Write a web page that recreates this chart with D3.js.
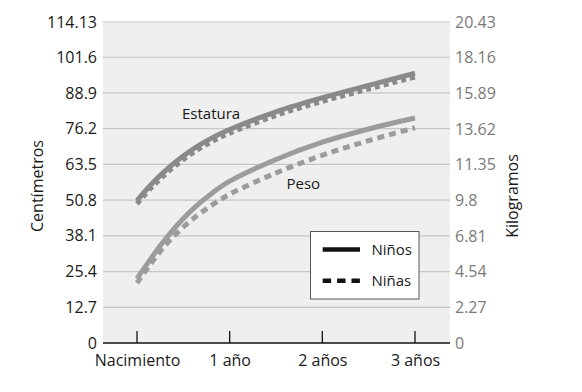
<!DOCTYPE html>
<html>
<head>
<meta charset="utf-8">
<script src="https://cdn.jsdelivr.net/npm/d3@7"></script>
<style>
  html, body { margin: 0; padding: 0; background: #fff; }
  svg { display: block; font-family: "Open Sans", "Noto Sans", sans-serif; }
</style>
</head>
<body>
<svg id="chart" width="582" height="392"></svg>
<script>
// ---- data ----
const xCategories = ["Nacimiento", "1 año", "2 años", "3 años"];
const xCategoryAges = [0, 1, 2, 3];

const leftTickValues = [0, 12.7, 25.4, 38.1, 50.8, 63.5, 76.2, 88.9, 101.6, 114.13];
const leftTickLabels = ["0", "12.7", "25.4", "38.1", "50.8", "63.5", "76.2", "88.9", "101.6", "114.13"];
const rightTickValues = [0, 2.27, 4.54, 6.81, 9.08, 11.35, 13.62, 15.89, 18.16, 20.43];
const rightTickLabels = ["0", "2.27", "4.54", "6.81", "9.8", "11.35", "13.62", "15.89", "18.16", "20.43"];

// ages in years
const ages = [0, 0.14, 0.28, 0.46, 0.65, 0.82, 1, 1.5, 2, 2.5, 3];
// Estatura (cm)
const estaturaNinos = [50.6, 55.9, 60.5, 65.5, 69.9, 73.1, 75.9, 82.2, 87.2, 91.6, 95.9];
const estaturaNinas = [49.5, 54.7, 59.2, 64.2, 68.6, 71.8, 74.6, 80.9, 85.9, 90.3, 94.6];
// Peso (kg)
const pesoNinos = [4.1, 5.29, 6.41, 7.67, 8.77, 9.58, 10.3, 11.68, 12.78, 13.62, 14.32];
const pesoNinas = [3.82, 4.98, 6.04, 7.16, 8.11, 8.82, 9.47, 10.82, 11.95, 12.88, 13.7];

const seriesLabels = ["Niños", "Niñas"];
const curveLabels = ["Estatura", "Peso"];

// ---- layout ----
const svg = d3.select("#chart");
const plot = { left: 103, right: 450, top: 22, bottom: 343 };

const x = d3.scaleLinear().domain([0, 3]).range([137, 415]);
const yL = d3.scaleLinear().domain([0, 114.13]).range([plot.bottom, plot.top]);
const yR = d3.scaleLinear().domain([0, 20.43]).range([plot.bottom, plot.top]);

// background
svg.append("rect")
  .attr("x", plot.left).attr("y", plot.top)
  .attr("width", plot.right - plot.left).attr("height", plot.bottom - plot.top)
  .attr("fill", "#efefef");

// grid lines
svg.append("g").selectAll("line")
  .data(leftTickValues.filter(d => d > 0))
  .join("line")
  .attr("x1", plot.left).attr("x2", plot.right)
  .attr("y1", d => yL(d)).attr("y2", d => yL(d))
  .attr("stroke", "#c6c6c6").attr("stroke-width", 1.2);

// left axis
const leftAxis = d3.axisLeft(yL).tickValues(leftTickValues)
  .tickFormat((d, i) => leftTickLabels[i]).tickSize(0).tickPadding(6);
const gL = svg.append("g").attr("transform", `translate(${plot.left},0)`).call(leftAxis);
gL.select(".domain").remove();
gL.selectAll("text").attr("font-size", 16).attr("fill", "#1a1a1a")
  .attr("font-family", "'Open Sans', sans-serif");

// right axis
const rightAxis = d3.axisRight(yR).tickValues(rightTickValues)
  .tickFormat((d, i) => rightTickLabels[i]).tickSize(0).tickPadding(5);
const gR = svg.append("g").attr("transform", `translate(${plot.right},0)`).call(rightAxis);
gR.select(".domain").remove();
gR.selectAll("text").attr("font-size", 16).attr("fill", "#7a7a7a")
  .attr("font-family", "'Open Sans', sans-serif");

// bottom axis
const bottomAxis = d3.axisBottom(x).tickValues(xCategoryAges)
  .tickFormat((d, i) => xCategories[i]).tickSize(0).tickPadding(12);
const gB = svg.append("g").attr("transform", `translate(0,${plot.bottom})`).call(bottomAxis);
gB.select(".domain").remove();
gB.selectAll("text").attr("font-size", 16).attr("fill", "#1a1a1a")
  .attr("font-family", "'Open Sans', sans-serif");
svg.append("line")
  .attr("x1", plot.left).attr("x2", plot.right)
  .attr("y1", plot.bottom).attr("y2", plot.bottom)
  .attr("stroke", "#111").attr("stroke-width", 1.5);
svg.append("g").selectAll("line")
  .data(xCategoryAges).join("line")
  .attr("x1", d => x(d)).attr("x2", d => x(d))
  .attr("y1", plot.bottom).attr("y2", plot.bottom - 12)
  .attr("stroke", "#111").attr("stroke-width", 1.3);

// axis titles
svg.append("text")
  .attr("transform", "translate(43,186) rotate(-90)")
  .attr("text-anchor", "middle").attr("font-size", 16).attr("fill", "#1a1a1a")
  .text("Centímetros");
svg.append("text")
  .attr("transform", "translate(518,196) rotate(-90)")
  .attr("text-anchor", "middle").attr("font-size", 16).attr("fill", "#1a1a1a")
  .text("Kilogramos");

// lines
const curve = d3.curveCatmullRom.alpha(0.5);
const lineL = d3.line().x((d, i) => x(ages[i])).y(d => yL(d)).curve(curve);
const lineR = d3.line().x((d, i) => x(ages[i])).y(d => yR(d)).curve(curve);

const estColor = "#8a8a8a", pesoColor = "#9c9c9c";
svg.append("path").attr("d", lineR(pesoNinas)).attr("fill", "none")
  .attr("stroke", pesoColor).attr("stroke-width", 5).attr("stroke-dasharray", "7,5");
svg.append("path").attr("d", lineR(pesoNinos)).attr("fill", "none")
  .attr("stroke", pesoColor).attr("stroke-width", 5);
svg.append("path").attr("d", lineL(estaturaNinas)).attr("fill", "none")
  .attr("stroke", estColor).attr("stroke-width", 5).attr("stroke-dasharray", "5,4");
svg.append("path").attr("d", lineL(estaturaNinos)).attr("fill", "none")
  .attr("stroke", estColor).attr("stroke-width", 5);

// curve labels
svg.append("text").attr("x", 182).attr("y", 118.5).attr("font-size", 15)
  .attr("fill", "#1a1a1a").text(curveLabels[0]);
svg.append("text").attr("x", 286.5).attr("y", 188.5).attr("font-size", 15)
  .attr("fill", "#1a1a1a").text(curveLabels[1]);

// legend
const lg = svg.append("g");
lg.append("rect").attr("x", 310.5).attr("y", 231.5).attr("width", 108.5).attr("height", 67.5)
  .attr("fill", "#fff").attr("stroke", "#555").attr("stroke-width", 1);
const legendY = [249.5, 280.7];
seriesLabels.forEach((s, i) => {
  lg.append("line").attr("x1", 322.7).attr("x2", 360).attr("y1", legendY[i]).attr("y2", legendY[i])
    .attr("stroke", "#111").attr("stroke-width", 4.6)
    .attr("stroke-dasharray", i === 0 ? null : "8.4,6");
  lg.append("text").attr("x", 371.5).attr("y", legendY[i] + 5.5).attr("font-size", 15)
    .attr("fill", "#1a1a1a").text(s);
});
</script>
</body>
</html>
